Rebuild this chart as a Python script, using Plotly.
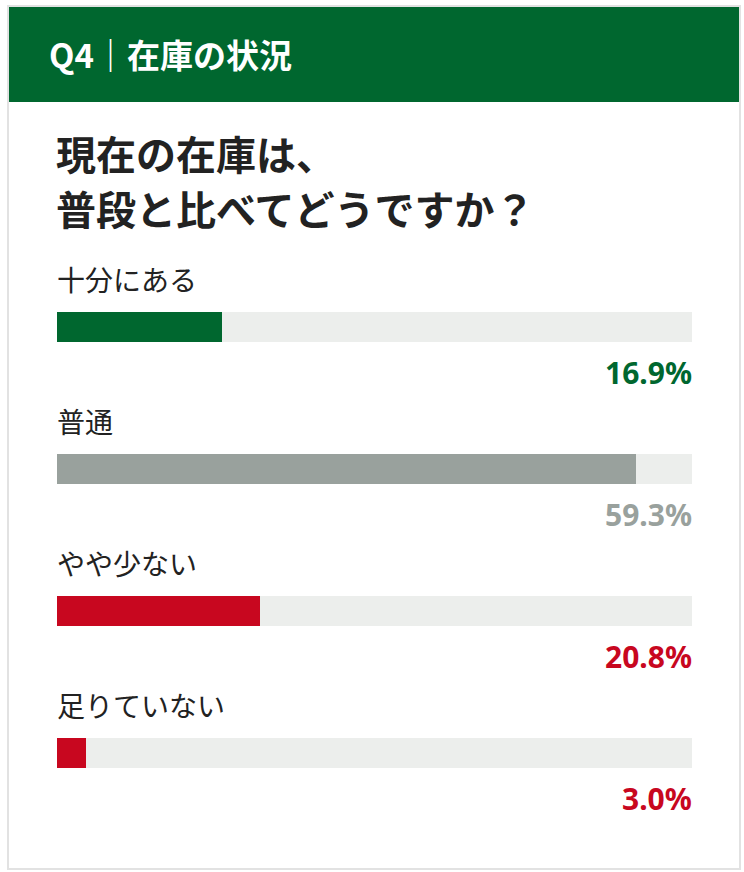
import plotly.graph_objects as go

# ---- data ----
header_text = "Q4｜在庫の状況"
question_lines = ["現在の在庫は、", "普段と比べてどうですか？"]
categories = ["十分にある", "普通", "やや少ない", "足りていない"]
values = [16.9, 59.3, 20.8, 3.0]
value_labels = ["16.9%", "59.3%", "20.8%", "3.0%"]
bar_colors = ["#00672f", "#99a19d", "#c8071f", "#c8071f"]
AXIS_MAX = 65

# ---- layout constants ----
W, H = 744, 872
FONT = "Noto Sans CJK JP"
TRACK = "#eceeec"
GREEN = "#00672f"

def px(x):
    return x / W

def py(y):
    return 1 - y / H

fig = go.Figure()

fig.add_trace(go.Bar(
    y=categories, x=[AXIS_MAX] * len(categories), orientation="h",
    marker=dict(color=TRACK, line=dict(width=0)),
    width=30 / 142, hoverinfo="skip", showlegend=False,
))
fig.add_trace(go.Bar(
    y=categories, x=values, orientation="h",
    marker=dict(color=bar_colors, line=dict(width=0)),
    width=30 / 142, hoverinfo="skip", showlegend=False,
))

top_idx = -327 / 142
bot_idx = (H - 327) / 142

annotations = []
annotations.append(dict(
    xref="paper", yref="paper", x=px(47), y=py(54), xanchor="left", yanchor="middle",
    text="<b>" + header_text + "</b>", showarrow=False,
    font=dict(family=FONT, size=33, color="white"),
))
for i, line in enumerate(question_lines):
    annotations.append(dict(
        xref="paper", yref="paper", x=px(54), y=py(153 + 55 * i), xanchor="left", yanchor="middle",
        text="<b>" + line + "</b>", showarrow=False,
        font=dict(family=FONT, size=40, color="#222222"),
    ))
for cat, lab, col in zip(categories, value_labels, bar_colors):
    annotations.append(dict(
        xref="paper", yref="y", x=px(55), y=cat, xanchor="left", yanchor="middle",
        yshift=48, text=cat, showarrow=False,
        font=dict(family=FONT, size=28, color="#222222"),
    ))
    annotations.append(dict(
        xref="paper", yref="y", x=px(694), y=cat, xanchor="right", yanchor="middle",
        yshift=-45, text="<b>" + lab + "</b>", showarrow=False,
        font=dict(family="Noto Sans", size=30, color=col),
    ))

shapes = [
    dict(type="rect", xref="paper", yref="paper", x0=px(8), x1=px(740), y0=py(869), y1=py(6),
         line=dict(color="#e2e2e2", width=2), fillcolor="white", layer="below"),
    dict(type="rect", xref="paper", yref="paper", x0=px(9), x1=px(739), y0=py(102), y1=py(7),
         line=dict(width=0), fillcolor=GREEN, layer="below"),
]

fig.update_layout(
    width=W, height=H, autosize=False,
    margin=dict(l=0, r=0, t=0, b=0),
    paper_bgcolor="white", plot_bgcolor="rgba(0,0,0,0)",
    barmode="overlay", bargap=0,
    xaxis=dict(domain=[px(57), px(692)], range=[0, AXIS_MAX], visible=False, fixedrange=True),
    yaxis=dict(domain=[0, 1], range=[bot_idx, top_idx], visible=False, fixedrange=True,
               categoryorder="array", categoryarray=categories),
    annotations=annotations, shapes=shapes,
)

fig.write_html("out.html", config={"displayModeBar": False},
               post_script="document.body.style.margin='0';document.body.style.overflow='hidden';")
